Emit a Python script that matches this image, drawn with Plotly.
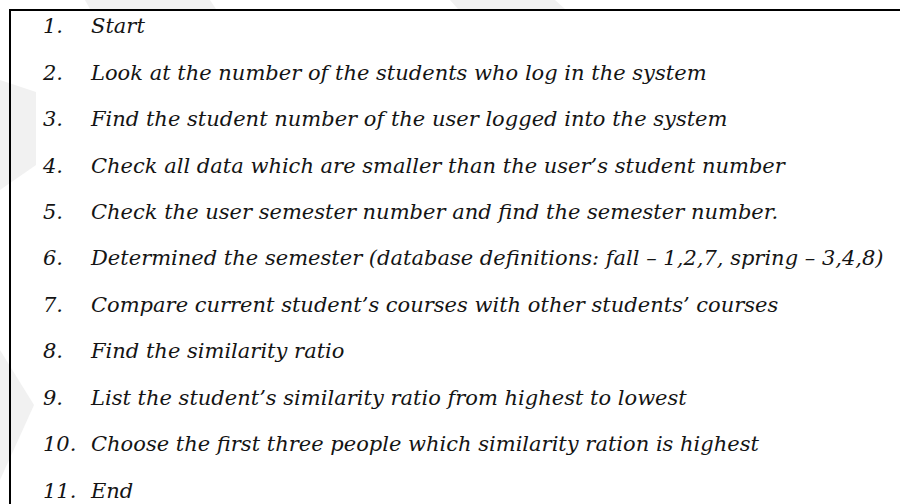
import plotly.graph_objects as go

# Step list (the "data" of this figure)
step_numbers = ["1.", "2.", "3.", "4.", "5.", "6.", "7.", "8.", "9.", "10.", "11."]
step_texts = [
    "Start",
    "Look at the number of the students who log in the system",
    "Find the student number of the user logged into the system",
    "Check all data which are smaller than the user\u2019s student number",
    "Check the user semester number and find the semester number.",
    "Determined the semester (database definitions: fall \u2013 1,2,7, spring \u2013 3,4,8)",
    "Compare current student\u2019s courses with other students\u2019 courses",
    "Find the similarity ratio",
    "List the student\u2019s similarity ratio from highest to lowest",
    "Choose the first three people which similarity ration is highest",
    "End",
]
step_index = list(range(1, len(step_texts) + 1))

W, H = 900, 504
FONT = "DejaVu Serif"
FSIZE = 21
COLOR = "#141414"

fig = go.Figure()
fig.add_trace(go.Scatter(
    x=[43] * len(step_numbers), y=step_index, mode="text",
    text=step_numbers, textposition="middle right",
    textfont=dict(family=FONT, size=FSIZE, color=COLOR, style="italic"),
    hoverinfo="skip", showlegend=False, cliponaxis=False,
))
fig.add_trace(go.Scatter(
    x=[91] * len(step_texts), y=step_index, mode="text",
    text=step_texts, textposition="middle right",
    textfont=dict(family=FONT, size=FSIZE, color=COLOR, style="italic"),
    hoverinfo="skip", showlegend=False, cliponaxis=False,
))

def px_y(p):
    return 1 - p / H

shapes = []
# faint watermark shapes
wm = "#f1f1f1"
def poly(pts):
    path = "M " + " L ".join(f"{x/W:.4f},{px_y(y):.4f}" for x, y in pts) + " Z"
    return dict(type="path", xref="paper", yref="paper", path=path,
                fillcolor=wm, line=dict(width=0), layer="below")
shapes.append(poly([(85, 0), (210, 0), (216, 9), (90, 9)]))
shapes.append(poly([(450, 0), (555, 0), (565, 9), (458, 9)]))
shapes.append(poly([(0, 80), (36, 92), (36, 165), (0, 190)]))
shapes.append(poly([(0, 350), (34, 405), (0, 480)]))
# border lines
shapes.append(dict(type="line", xref="paper", yref="paper",
                   x0=9 / W, x1=1, y0=px_y(10), y1=px_y(10),
                   line=dict(color="black", width=2)))
shapes.append(dict(type="line", xref="paper", yref="paper",
                   x0=10 / W, x1=10 / W, y0=px_y(9), y1=0,
                   line=dict(color="black", width=2)))

fig.update_layout(
    width=W, height=H,
    margin=dict(l=0, r=0, t=0, b=0),
    paper_bgcolor="white", plot_bgcolor="white",
    xaxis=dict(range=[0, W], visible=False, fixedrange=True),
    yaxis=dict(range=[11.248, 0.397], visible=False, fixedrange=True),
    shapes=shapes,
)
fig.write_html(
    "out.html",
    config={"displayModeBar": False, "staticPlot": True},
    post_script="document.body.style.margin='0';document.body.style.padding='0';",
)
